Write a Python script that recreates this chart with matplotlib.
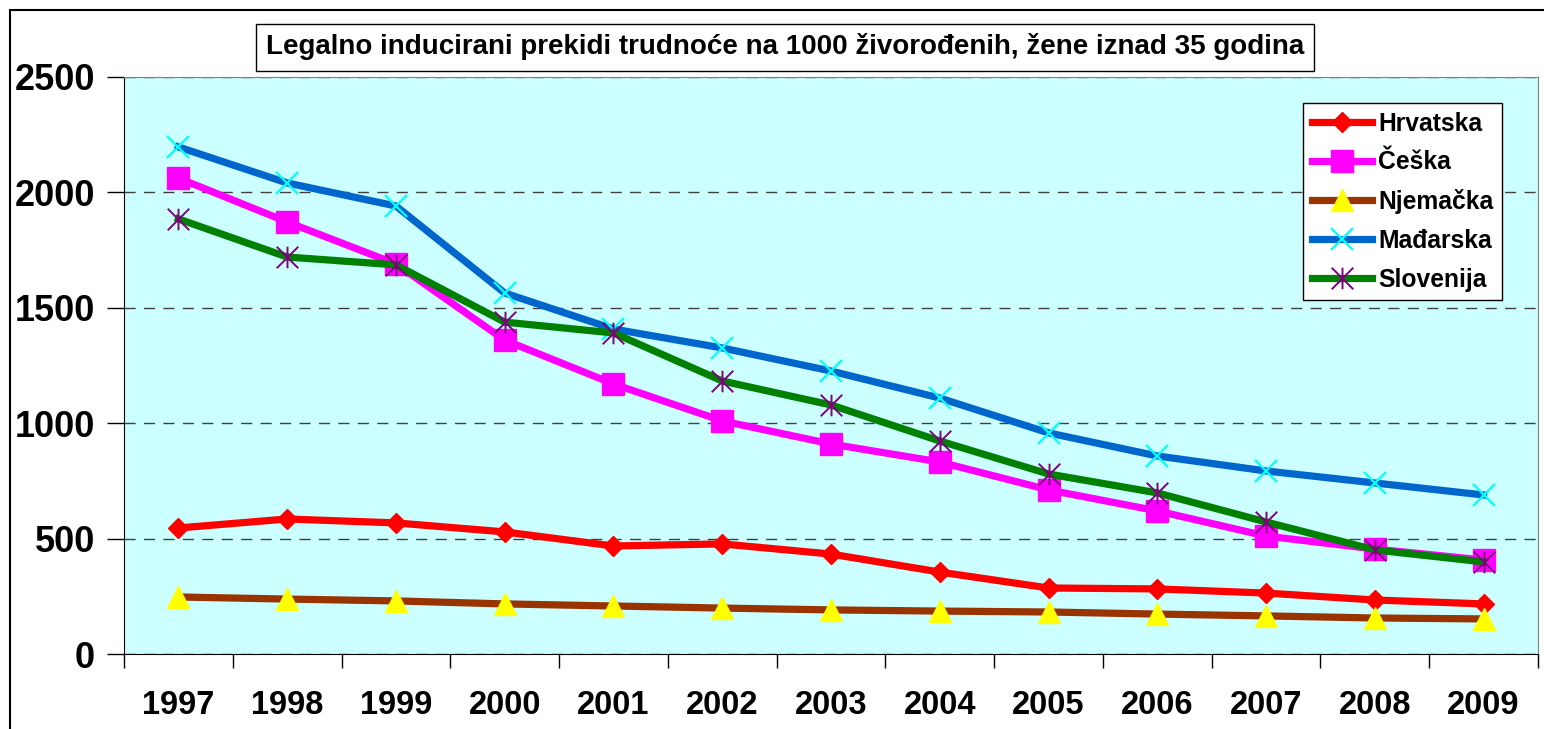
import numpy as np
import matplotlib.pyplot as plt
from matplotlib.path import Path

years = ['1997', '1998', '1999', '2000', '2001', '2002', '2003',
         '2004', '2005', '2006', '2007', '2008', '2009']

hrvatska = [546, 585, 568, 529, 468, 477, 433, 355, 286, 282, 264, 234, 217]
ceska = [2062, 1872, 1690, 1360, 1170, 1010, 910, 832, 711, 620, 511, 455, 407]
njemacka = [247, 238, 230, 217, 208, 199, 191, 186, 182, 173, 165, 156, 152]
madarska = [2197, 2041, 1941, 1564, 1408, 1326, 1226, 1109, 958, 858, 793, 741, 689]
slovenija = [1885, 1720, 1686, 1438, 1391, 1183, 1079, 923, 780, 698, 572, 451, 399]

plt.rcParams['font.family'] = ['Liberation Sans', 'DejaVu Sans']
plt.rcParams['font.weight'] = 'bold'

# excel style star: x with a vertical bar
star = Path([(-1, -1), (1, 1), (-1, 1), (1, -1), (0, -1), (0, 1)],
            [Path.MOVETO, Path.LINETO, Path.MOVETO, Path.LINETO, Path.MOVETO, Path.LINETO])

fig = plt.figure(figsize=(15.44, 7.29), dpi=100)
ax = fig.add_axes([124/1544, 1-654/729, (1538-124)/1544, (654-77)/729])
ax.set_facecolor('#CCFFFF')

x = np.arange(len(years))
lw = 5.2
ax.plot(x, hrvatska, color='#FF0000', lw=lw, marker='D', ms=10.5,
        mfc='#FF0000', mec='#FF0000', label='Hrvatska', zorder=3)
ax.plot(x, ceska, color='#FF00FF', lw=lw, marker='s', ms=16,
        mfc='#FF00FF', mec='#FF00FF', label='Češka', zorder=4)
ax.plot(x, njemacka, color='#993300', lw=lw, marker='^', ms=15.5,
        mfc='#FFFF00', mec='#FFFF00', label='Njemačka', zorder=5)
ax.plot(x, madarska, color='#0066CC', lw=lw, marker='x', ms=15.5, mew=1.6,
        mec='#00FFFF', label='Mađarska', zorder=6)
ax.plot(x, slovenija, color='#008000', lw=lw, marker=star, ms=15.5, mew=1.4,
        mec='#800080', mfc='none', label='Slovenija', zorder=7)

ax.set_xlim(-0.5, len(years)-0.5)
ax.set_ylim(0, 2500)
ax.set_yticks([0, 500, 1000, 1500, 2000, 2500])
ax.yaxis.grid(True, color='#404040', ls=(0, (8, 6)), lw=1)
ax.set_axisbelow(True)

ax.set_xticks(np.arange(-0.5, len(years)), labels=[])
ax.set_xticks(x, labels=years, minor=True)
ax.tick_params(axis='x', which='major', length=10, width=1, direction='out')
ax.tick_params(axis='x', which='minor', length=0, pad=26, labelsize=23.5)
ax.tick_params(axis='y', length=12, width=1, direction='out', pad=9, labelsize=26)
for lab in ax.get_xticklabels(minor=True) + ax.get_yticklabels():
    lab.set_fontweight('bold')

for s in ['top', 'right']:
    ax.spines[s].set_color('#808080')
ax.spines['left'].set_color('black')
ax.spines['bottom'].set_color('black')

leg = ax.legend(loc='upper right', bbox_to_anchor=((1502-124)/1414, (654-103)/577),
                borderaxespad=0, fancybox=False, framealpha=1, edgecolor='black',
                prop={'size': 17.7, 'weight': 'bold'}, handlelength=2.45,
                labelspacing=0.6, borderpad=0.35, handletextpad=0.25)
leg.get_frame().set_linewidth(1)

fig.text(785/1544, 1-47/729,
         'Legalno inducirani prekidi trudnoće na 1000 živorođenih, žene iznad 35 godina',
         ha='center', va='center', fontsize=20, fontweight='bold',
         bbox=dict(boxstyle='square,pad=0.36', fc='white', ec='black', lw=1))

fig.patches.append(plt.Rectangle((10/1544, -0.2), 1.2, 1.2-10/729,
                                 transform=fig.transFigure, fill=False,
                                 ec='black', lw=1.5))

fig.savefig('out.png', dpi=100)
